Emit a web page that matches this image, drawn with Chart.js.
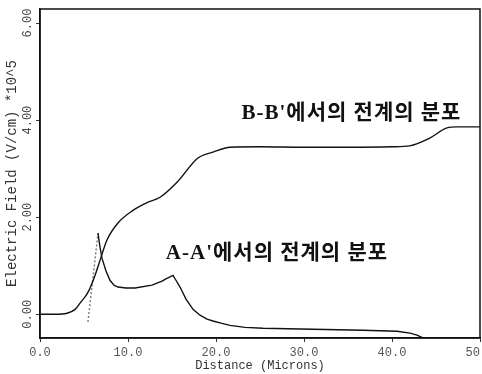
<!DOCTYPE html>
<html>
<head>
<meta charset="utf-8">
<script src="https://cdn.jsdelivr.net/npm/chart.js@4"></script>
<style>
  html, body { margin: 0; padding: 0; background: #fff; }
</style>
</head>
<body>
<canvas id="fieldChart" width="482" height="374"></canvas>
<script>
// Field profiles (distance in microns, field in V/cm * 10^5)
const bbDistance = [0.0, 1.7, 3.07, 3.98, 4.55, 5.45, 6.25, 6.82, 7.61, 8.86, 10.57, 12.16, 13.64, 15.57, 17.95, 19.66, 21.6, 25.0, 30.0, 35.0, 40.0, 42.0, 44.3, 46.25, 47.4, 50.0];
const bbField = [0.00, 0.00, 0.02, 0.10, 0.23, 0.45, 0.80, 1.11, 1.53, 1.88, 2.14, 2.30, 2.41, 2.72, 3.22, 3.34, 3.44, 3.45, 3.44, 3.44, 3.45, 3.47, 3.63, 3.84, 3.86, 3.86];

const aaDistance = [5.45, 6.59, 6.82, 7.05, 7.50, 7.95, 8.41, 8.86, 9.77, 10.80, 12.73, 13.86, 14.43, 15.11, 15.45, 15.91, 16.59, 17.39, 18.18, 18.98, 19.66, 20.68, 21.59, 23.30, 25.34, 31.02, 36.70, 40.57, 42.05, 42.84, 43.52];
const aaField = [-0.16, 1.67, 1.38, 1.15, 0.89, 0.70, 0.60, 0.56, 0.54, 0.54, 0.60, 0.68, 0.74, 0.80, 0.70, 0.56, 0.31, 0.10, -0.02, -0.10, -0.14, -0.19, -0.23, -0.27, -0.29, -0.31, -0.33, -0.35, -0.39, -0.43, -0.49];

const xTicks = [0, 10, 20, 30, 40, 50];
const yTicks = [0, 2, 4, 6];

const bbLabel = "B-B'에서의 전계의 분포";
const aaLabel = "A-A'에서의 전계의 분포";

const monoFont = '"Liberation Mono", "DejaVu Sans Mono", monospace';
const labelFont = 'bold 21px "Liberation Serif", "Noto Sans CJK KR", serif';

function toPoints(xs, ys) {
    return xs.map((x, i) => ({ x: x, y: ys[i] }));
}

// Box round the plot, rotated y tick labels and the two curve captions
const plotDecor = {
    id: 'plotDecor',
    afterDraw(chart) {
        const { ctx, chartArea, scales } = chart;
        ctx.save();
        ctx.strokeStyle = '#111';
        ctx.lineWidth = 1.5;
        ctx.strokeRect(chartArea.left, chartArea.top, chartArea.right - chartArea.left, chartArea.bottom - chartArea.top);

        ctx.fillStyle = '#444';
        ctx.font = '12px ' + monoFont;
        ctx.textAlign = 'center';
        ctx.textBaseline = 'middle';
        yTicks.forEach(v => {
            const py = scales.y.getPixelForValue(v);
            ctx.save();
            ctx.translate(28, py);
            ctx.rotate(-Math.PI / 2);
            ctx.fillText(v.toFixed(2), 0, 0);
            ctx.restore();
        });

        ctx.fillStyle = '#111';
        ctx.font = labelFont;
        ctx.letterSpacing = '1px';
        ctx.textAlign = 'left';
        ctx.fillText(bbLabel, scales.x.getPixelForValue(22.9), scales.y.getPixelForValue(4.14));
        ctx.fillText(aaLabel, scales.x.getPixelForValue(14.3), scales.y.getPixelForValue(1.24));
        ctx.restore();
    }
};

const ctx = document.getElementById('fieldChart').getContext('2d');
new Chart(ctx, {
    type: 'line',
    data: {
        datasets: [
            {
                label: 'B-B\'',
                data: toPoints(bbDistance, bbField),
                borderColor: '#111',
                borderWidth: 1.4,
                cubicInterpolationMode: 'monotone',
                pointRadius: 0
            },
            {
                label: 'A-A\'',
                data: toPoints(aaDistance, aaField),
                borderColor: '#111',
                borderWidth: 1.4,
                tension: 0,
                pointRadius: 0,
                segment: {
                    borderDash: c => c.p0DataIndex === 0 ? [2, 2] : undefined,
                    borderColor: c => c.p0DataIndex === 0 ? '#777' : undefined
                }
            }
        ]
    },
    options: {
        responsive: false,
        animation: false,
        layout: { padding: { top: 9, right: 2, left: 0, bottom: 0 } },
        plugins: {
            legend: { display: false },
            tooltip: { enabled: false }
        },
        scales: {
            x: {
                type: 'linear',
                min: 0,
                max: 50,
                afterBuildTicks: s => { s.ticks = xTicks.map(v => ({ value: v })); },
                afterFit: s => { s.height = 36; s.paddingLeft = 0; s.paddingRight = 0; },
                ticks: {
                    callback: v => v.toFixed(1),
                    color: '#555',
                    font: { family: monoFont, size: 12 },
                    padding: 4,
                    maxRotation: 0
                },
                grid: { drawOnChartArea: false, tickLength: 4, color: '#333' },
                border: { color: '#111', width: 1.5 },
                title: {
                    display: true,
                    text: 'Distance (Microns)',
                    color: '#333',
                    font: { family: monoFont, size: 12 },
                    padding: { top: 0, bottom: 1 }
                }
            },
            y: {
                type: 'linear',
                min: -0.49,
                max: 6.29,
                afterBuildTicks: s => { s.ticks = yTicks.map(v => ({ value: v })); },
                afterFit: s => { s.width = 40; },
                ticks: { display: false },
                grid: { drawOnChartArea: false, tickLength: 4, color: '#333' },
                border: { color: '#111', width: 1.5 },
                title: {
                    display: true,
                    text: 'Electric Field (V/cm) *10^5',
                    color: '#333',
                    font: { family: monoFont, size: 14 },
                    padding: { top: 4, bottom: 0 }
                }
            }
        }
    },
    plugins: [plotDecor]
});
</script>
</body>
</html>
